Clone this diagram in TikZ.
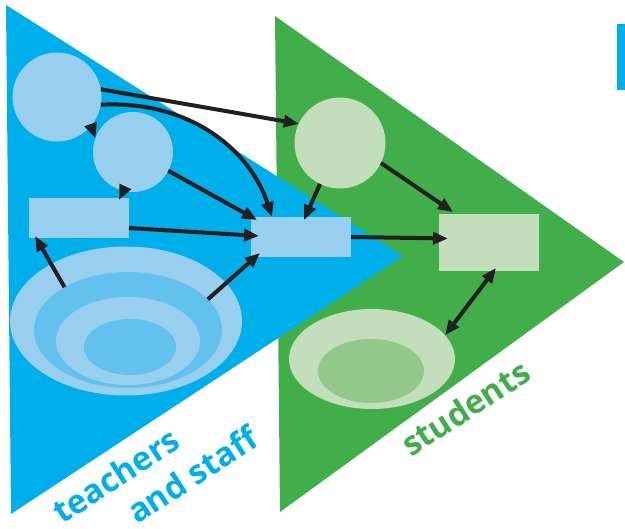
\documentclass[tikz,border=0pt]{standalone}
\usepackage{fontspec}
\setmainfont{Open Sans}
\usepackage{tikz}
\usetikzlibrary{arrows.meta,calc,shapes.geometric}
\definecolor{tb}{RGB}{0,174,234}
\definecolor{tblt}{RGB}{152,207,239}
\definecolor{tbmd}{RGB}{100,193,237}
\definecolor{st}{RGB}{66,174,74}
\definecolor{stlt}{RGB}{195,222,186}
\definecolor{stmd}{RGB}{146,200,138}
\definecolor{ink}{RGB}{35,31,32}

\begin{document}
\begin{tikzpicture}[
      x=1pt, y=-1pt,
      >={Triangle[length=15pt,width=12pt]},
      arr/.style={->, draw=ink, line width=4pt},
      blob/.style={circle, inner sep=0pt, outer sep=0pt},
      box/.style={rectangle, inner sep=0pt, outer sep=0pt, minimum width=100pt, minimum height=40pt},
      ring/.style={ellipse, inner sep=0pt, outer sep=0pt},
      lbl/.style={font=\fontsize{33}{40}\selectfont\bfseries, rotate=33, anchor=base west, inner sep=0pt},
]
\useasboundingbox (0,0) rectangle (625,529);

% the two groups
\fill[st] (275,16) -- (624,262) -- (280,512) -- cycle;
\fill[tb] (6,5) -- (403,256) -- (11,514) -- cycle;
\fill[tb] (617,24) rectangle (625,90);

% teachers and staff
\node[blob, fill=tblt, minimum size=89pt] (t_c1) at (57,97) {};
\node[blob, fill=tblt, minimum size=80pt] (t_c2) at (133,152) {};
\node[box, fill=tblt] (t_box1) at (79,218) {};
\node[box, fill=tblt] (t_box2) at (301,237) {};
\node[ring, fill=tblt, minimum width=232pt, minimum height=149pt] (t_pool1) at (126,321) {};
\node[ring, fill=tbmd, minimum width=188pt, minimum height=116pt] (t_pool2) at (128,330) {};
\node[ring, fill=tblt, minimum width=144pt, minimum height=88pt] (t_pool3) at (128,341) {};
\node[ring, fill=tbmd, minimum width=92pt, minimum height=56pt] (t_pool4) at (130,347) {};

% students
\node[blob, fill=stlt, minimum size=91pt] (s_c) at (340,143) {};
\node[box, fill=stlt, minimum height=57pt] (s_box) at (489,242.5) {};
\node[ring, fill=stlt, minimum width=166pt, minimum height=100pt] (s_pool1) at (372,359) {};
\node[ring, fill=stmd, minimum width=106pt, minimum height=64pt] (s_pool2) at (371,371) {};

\draw[arr] (t_c1.10) -- (s_c.155);
\draw[arr] (t_c1.-10) .. controls (190,100) and (250,150) .. ($(t_box2.north west)+(21,0)$);
\draw[arr] (t_c1.-40) -- (t_c2.160);
\draw[arr] (t_c2.-104) -- ($(t_box1.north east)+(-10,2)$);
\draw[arr] (t_c2.-28) -- ($(t_box2.north west)+(6,3)$);
\draw[arr] ($(t_box1.east)+(0,10)$) -- ($(t_box2.west)+(8,-1)$);
\draw[arr] (t_pool2.146) -- ($(t_box1.south west)+(6,-2)$);
\draw[arr] (t_pool2.21) -- ($(t_box2.south west)+(9,-4)$);
\draw[arr] (s_c.-116) -- ($(t_box2.north)+(3,3)$);
\draw[arr] (s_c.-26) -- ($(s_box.north west)+(14,-2)$);
\draw[arr] (t_box2.east) -- ($(s_box.west)+(9,-4)$);
\draw[arr, <->] ($(s_box.south)+(7,-3)$) -- (s_pool1.18);

\node[lbl, text=tb] (teachers_lbl) at (62,525) {teachers};
\node[lbl, text=tb] (staff_lbl) at (137,525) {and staff};
\node[lbl, text=st] (students_lbl) at (411,458) {students};

\end{tikzpicture}
\end{document}
